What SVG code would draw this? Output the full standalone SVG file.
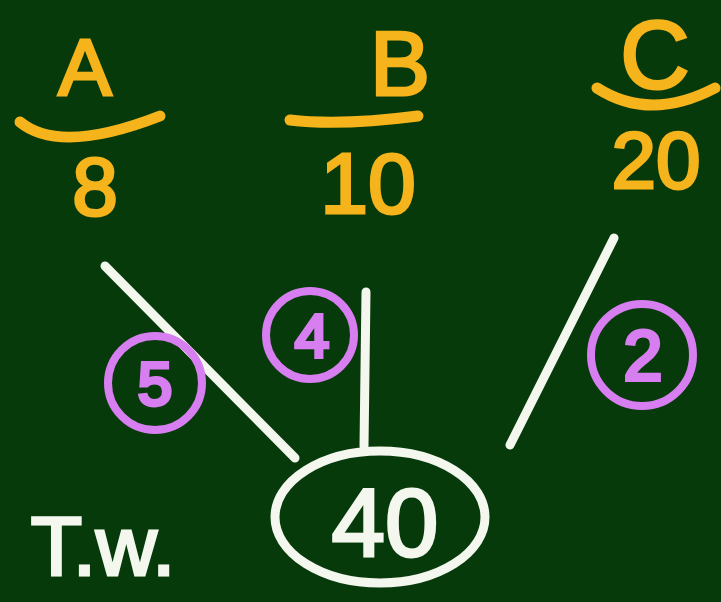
<svg xmlns="http://www.w3.org/2000/svg" width="721" height="602" viewBox="0 0 721 602">
<style>
.y{fill:#f6b41c;stroke:#f6b41c;stroke-width:3;font-family:"Liberation Sans",Arial,sans-serif;text-anchor:middle}
.ybar{fill:none;stroke:#f6b41c;stroke-width:11;stroke-linecap:round}
.p{fill:#d77ef0;stroke:#d77ef0;stroke-width:4;font-family:"Liberation Sans",Arial,sans-serif;text-anchor:middle}
.pc{fill:none;stroke:#d77ef0;stroke-width:8}
.w{fill:#f3f7ee;stroke:#f3f7ee;stroke-width:3;font-family:"Liberation Sans",Arial,sans-serif;text-anchor:middle}
.wl{fill:none;stroke:#f3f7ee;stroke-width:9;stroke-linecap:round}
</style>
<rect width="721" height="602" fill="#073a0a"/>
<g id="nodeA">
<text class="y" x="85" y="95" font-size="80">A</text>
<path class="ybar" d="M20,122 Q60,155 160,116"/>
<text class="y" x="95" y="215" font-size="82">8</text>
</g>
<g id="nodeB">
<text class="y" x="400" y="95" font-size="90">B</text>
<path class="ybar" d="M290,120 Q340,126 418,116"/>
<text class="y" x="368" y="213" font-size="86">10</text>
</g>
<g id="nodeC">
<text class="y" x="655" y="88" font-size="96">C</text>
<path class="ybar" d="M597,88 Q650,122 715,88"/>
<text class="y" x="656" y="188" font-size="80">20</text>
</g>
<g id="connectors">
<line class="wl" x1="105" y1="266" x2="295" y2="458"/>
<line class="wl" x1="366" y1="292" x2="364" y2="446"/>
<line class="wl" x1="614" y1="238" x2="510" y2="445"/>
</g>
<g id="weight5">
<circle class="pc" cx="155" cy="383" r="47"/>
<text class="p" x="155" y="405" font-size="62">5</text>
</g>
<g id="weight4">
<circle class="pc" cx="310" cy="335" r="44"/>
<text class="p" x="312" y="357" font-size="62">4</text>
</g>
<g id="weight2">
<circle class="pc" cx="642" cy="355" r="51"/>
<text class="p" x="643" y="380" font-size="70">2</text>
</g>
<g id="total">
<ellipse cx="380" cy="517" rx="105" ry="66" fill="none" stroke="#f3f7ee" stroke-width="9"/>
<text class="w" x="385" y="556" font-size="96">40</text>
<text class="w" x="103" y="575" font-size="84">T.w.</text>
</g>
</svg>
